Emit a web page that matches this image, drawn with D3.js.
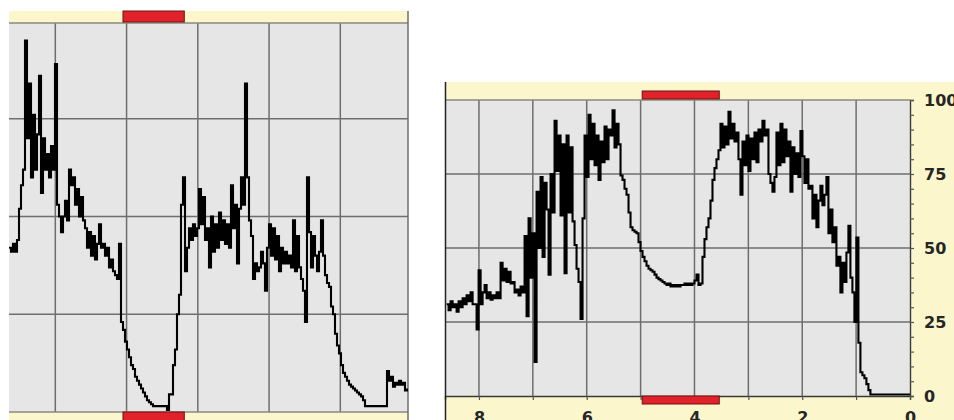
<!DOCTYPE html>
<html>
<head>
<meta charset="utf-8">
<script src="https://cdn.jsdelivr.net/npm/d3@7"></script>
<style>
  body { margin: 0; background: #fff; }
  svg { display: block; }
</style>
</head>
<body>
<svg id="chart" width="954" height="420"></svg>
<script>
// readings are activity level 0-100, one every sample step (hours)
const leftLevel = [
  42,41,43,41,44,52,58,62,95,70,
  84,60,76,62,71,86,56,70,62,66,
  60,68,62,89,53,50,46,50,54,49,
  62,58,60,53,57,50,55,49,47,42,
  46,40,45,39,43,48,42,43,40,42,
  37,39,36,35,34,43,23,21,18,16,
  14,12,11,9,8,7,6,5,4,3,
  2.5,2,1.5,1.5,1.5,1.5,1.5,1.5,1.5,0.5,
  4.5,4.5,12,16,25,30,53,60,36,42,
  47,44,48,45,47,57,48,55,44,47,
  37,50,41,48,42,51,44,49,43,48,
  42,58,47,53,38,52,60,53,84,60,
  49,45,34,38,36,37,41,38,31,42,
  48,40,47,39,45,36,42,38,41,38,
  40,37,49,36,45,37,34,31,23,60,
  46,37,45,40,36,41,49,40,35,33,
  32,27,25,20,17,15,12,10,9,8,
  7,6.5,6,5.5,5,4.5,4,3,1.5,1.5,
  1.5,1.5,1.5,1.5,1.5,1.5,1.5,1.5,1.5,10.5,
  8,9,6.5,7.5,7,8,7,7.5,5.5,6
];
const leftStart = 0.35, leftStep = 0.02807;
const leftRest = [1.95, 2.81];

const rightLevel = [
  31,29,32,30,31,28.5,32,30,33,31,
  34,32,35,31,31,22.5,42.5,31,35,37.5,
  33,35,32.5,34,33,35,33,45,39,43,
  38.5,42,38,38.5,35,36,34,37,35,54,
  27,60,40,55,11.5,69,50,74,47,72,
  63,41,75,62,93,76,88,61,85,41.5,
  88,62,84,59,51,43,38.5,26,60,88,
  74,95,80,92,78,88,73,86,79,91,
  80,90,88,96.5,84,92,85,74.5,73,70,
  68,62,57,56,55.5,55,52,49,47,45.5,
  44,43,42.5,42,41,40,39.5,39,38.5,38,
  37.5,38,37,37.5,37,37.5,37,37.5,37.5,38,
  37.5,38,37.5,38,39,41,37.5,38,47,53,
  57,60,66,73,77,80,83,92,84,91,
  85,96,87,92,86,89,80,68,86,78,
  88,76,87,80,89,79,90,86,93,88,
  90,75,72,69,74,89,78,92,79,90,
  81,86,69,84,75,82,74,89.5,81,72,
  80,70,71,60,68,57,66,71,64.5,68,
  74,55,63,52,57,44,47,35,45,38.5,
  48.5,57.5,40,35,25,53.5,18,8,7,6,
  4,2,0.5,0.5,0.5,0.5,0.5,0.5,0.5,0.5,
  0.5,0.5,0.5,0.5,0.5,0.5,0.5,0.5,0.5,0.5,
  0.5,0.5,0.5
];
const rightStart = 8.6, rightStep = 0.0371;
const rightRest = [4.97, 3.54];

const levelTicks = [0, 25, 50, 75, 100];
const hourLabels = [8, 6, 4, 2, 0];

const yellow = "#fbf6cc", plotGray = "#e6e6e6", gridCol = "#6e6e6e";
const redFill = "#e1222b", redEdge = "#6a1212";

const svg = d3.select("#chart");

// ---------- left panel (cut off, no labels) ----------
let lx = d3.scaleLinear().domain([0.35, 5.95]).range([9, 408]);
let ly = d3.scaleLinear().domain([0, 100]).range([412, 21]);

svg.append("rect").attr("x", 9).attr("y", 11).attr("width", 399).attr("height", 409).attr("fill", yellow);
svg.append("rect").attr("x", 9).attr("y", 23).attr("width", 399).attr("height", 389).attr("fill", plotGray);

let lg = svg.append("g").attr("stroke", gridCol).attr("stroke-width", 1.5);
lg.selectAll(".v").data([1, 2, 3, 4, 5]).enter().append("line")
  .attr("x1", d => lx(d)).attr("x2", d => lx(d)).attr("y1", 23).attr("y2", 412);
lg.selectAll(".h").data([25, 50, 75]).enter().append("line")
  .attr("x1", 9).attr("x2", 408).attr("y1", d => ly(d)).attr("y2", d => ly(d));
lg.append("line").attr("x1", 9).attr("x2", 408).attr("y1", 23).attr("y2", 23).attr("stroke", "#8a8a80");
lg.append("line").attr("x1", 9).attr("x2", 408).attr("y1", 412).attr("y2", 412).attr("stroke", "#8a8a80");
lg.append("line").attr("x1", 408).attr("x2", 408).attr("y1", 11).attr("y2", 420);

svg.append("clipPath").attr("id", "clipL").append("rect")
  .attr("x", 9).attr("y", 23).attr("width", 399).attr("height", 389);

let leftLine = d3.line()
  .x((d, i) => lx(leftStart + i * leftStep))
  .y(d => ly(d))
  .curve(d3.curveStepAfter);

svg.append("path").datum(leftLevel)
  .attr("clip-path", "url(#clipL)")
  .attr("fill", "none").attr("stroke", "#000").attr("stroke-width", 2.1)
  .attr("d", leftLine);

[[11, 11], [412, 10]].forEach(function (b) {
  svg.append("rect")
    .attr("x", lx(leftRest[0])).attr("y", b[0])
    .attr("width", lx(leftRest[1]) - lx(leftRest[0])).attr("height", b[1])
    .attr("fill", redFill).attr("stroke", redEdge).attr("stroke-width", 1);
});

// ---------- right panel ----------
let rx = d3.scaleLinear().domain([8.63, 0]).range([445, 910]);
let ry = d3.scaleLinear().domain([0, 100]).range([396, 100]);

svg.append("rect").attr("x", 445).attr("y", 82).attr("width", 509).attr("height", 338).attr("fill", yellow);
svg.append("rect").attr("x", 445).attr("y", 100).attr("width", 465).attr("height", 296).attr("fill", plotGray);

let rg = svg.append("g").attr("stroke", gridCol).attr("stroke-width", 1.5);
rg.selectAll(".v").data(d3.range(1, 9)).enter().append("line")
  .attr("x1", d => rx(d)).attr("x2", d => rx(d)).attr("y1", 100).attr("y2", 396);
rg.selectAll(".h").data([25, 50, 75]).enter().append("line")
  .attr("x1", 445).attr("x2", 910).attr("y1", d => ry(d)).attr("y2", d => ry(d));
rg.append("line").attr("x1", 445).attr("x2", 910).attr("y1", 100).attr("y2", 100).attr("stroke", "#8a8a80");

svg.append("clipPath").attr("id", "clipR").append("rect")
  .attr("x", 445).attr("y", 100).attr("width", 465).attr("height", 296);

let rightLine = d3.line()
  .x((d, i) => rx(rightStart - i * rightStep))
  .y(d => ry(d))
  .curve(d3.curveStepAfter);

svg.append("path").datum(rightLevel)
  .attr("clip-path", "url(#clipR)")
  .attr("fill", "none").attr("stroke", "#000").attr("stroke-width", 2.1)
  .attr("d", rightLine);

// y axis on the right, minor ticks every 5
let yAxis = d3.axisRight(ry)
  .tickValues(d3.range(0, 101, 5))
  .tickSize(4)
  .tickPadding(10)
  .tickFormat(d => levelTicks.includes(d) ? d : "");
let ya = svg.append("g").attr("transform", "translate(910,0)").call(yAxis);

let xAxis = d3.axisBottom(rx)
  .tickValues(d3.range(0, 9))
  .tickSize(4)
  .tickPadding(12)
  .tickFormat(d => hourLabels.includes(d) ? d : "");
let xa = svg.append("g").attr("transform", "translate(0,396)").call(xAxis);

[ya, xa].forEach(function (a) {
  a.select(".domain").attr("stroke", "#3a3a3a").attr("stroke-width", 1.4);
  a.selectAll(".tick line").attr("stroke", "#555").attr("stroke-width", 1.2);
  a.selectAll("text")
    .attr("fill", "#262626")
    .style("font-family", "'DejaVu Sans', Verdana, sans-serif")
    .style("font-weight", "bold")
    .style("font-size", "16px");
});

// dark left border of the right panel
svg.append("line").attr("x1", 445.5).attr("x2", 445.5).attr("y1", 82).attr("y2", 420)
  .attr("stroke", "#222").attr("stroke-width", 1.5);

[[91, 8], [396, 8]].forEach(function (b) {
  svg.append("rect")
    .attr("x", rx(rightRest[0])).attr("y", b[0])
    .attr("width", rx(rightRest[1]) - rx(rightRest[0])).attr("height", b[1])
    .attr("fill", redFill).attr("stroke", redEdge).attr("stroke-width", 1);
});
</script>
</body>
</html>
